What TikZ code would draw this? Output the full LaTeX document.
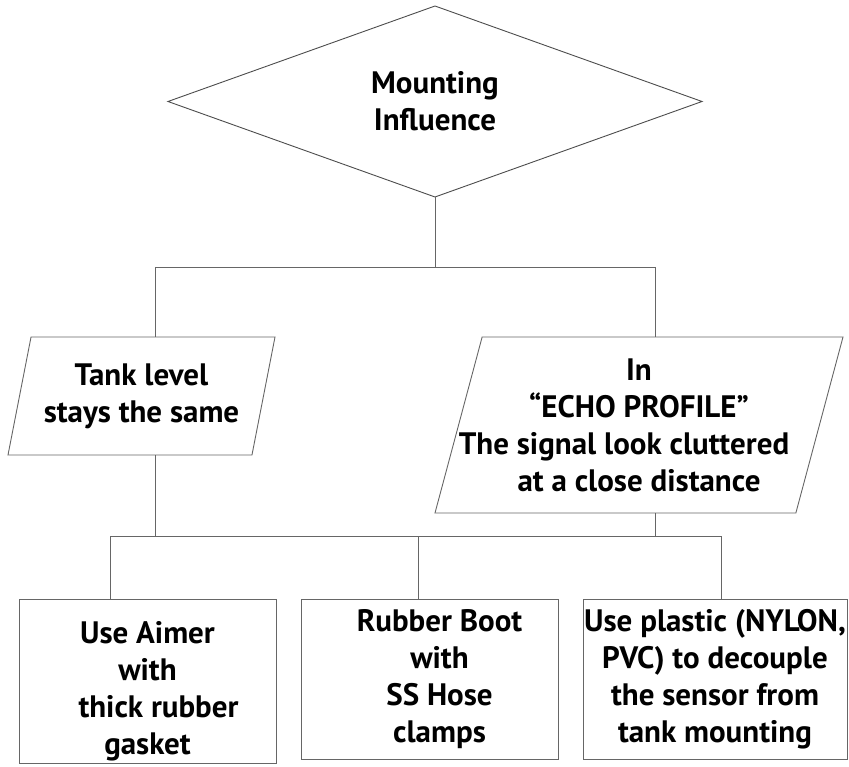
\documentclass[tikz,border=0pt]{standalone}
\usepackage{fontspec}
\setmainfont{PT Sans}
\usetikzlibrary{positioning, shapes.geometric}

\newcommand{\chartfont}{\fontsize{31}{37}\selectfont\bfseries}

\begin{document}
\begin{tikzpicture}[x=1pt, y=-1pt,
    link/.style={black!60, line width=0.9pt},
    decision/.style={diamond, draw=black!70, line width=0.9pt, aspect=2.8,
        minimum width=534pt, minimum height=191pt, inner sep=0pt, outer sep=0pt,
        align=center, font=\chartfont},
    slanted/.style={trapezium, trapezium left angle=70.5, trapezium right angle=109.5,
        trapezium stretches body, draw=black!60, line width=0.9pt, inner sep=0pt,
        outer sep=0pt, align=center, font=\chartfont},
    remedy/.style={rectangle, draw=black!60, line width=0.9pt, inner sep=0pt,
        outer sep=0pt, align=center, font=\chartfont}]
    \useasboundingbox (0,0) rectangle (849,767);

    \node[decision] (infl) at (435,101.5) {Mounting\\Influence};
    \node[slanted, minimum width=267pt, minimum height=118pt] (level) at (141.5,396)
        {Tank level\\stays the same};
    \node[slanted, minimum width=408pt, minimum height=176pt] (echo) at (639,425)
        {In\\``ECHO PROFILE''\\\makebox[200pt]{\hspace*{-30pt}The signal look cluttered}\\at a close distance};
    \node[remedy, minimum width=257pt, minimum height=164pt] (aimer) at (147.5,681)
        {\rule{0pt}{42pt}Use Aimer\\with\\\hspace*{22pt}thick rubber\\gasket};
    \node[remedy, minimum width=257pt, minimum height=160pt] (boot) at (429.5,679)
        {\hspace*{20pt}Rubber Boot\\\hspace*{20pt}with\\\hspace*{20pt}SS Hose\\\hspace*{20pt}clamps};
    \node[remedy, minimum width=264pt, minimum height=160pt] (plastic) at (715,679)
        {Use plastic (NYLON,\\PVC) to decouple\hspace*{20pt}\\the sensor from\\tank mounting};

    \coordinate (jl) at (155,267);
    \coordinate (jr) at (655,267);
    \coordinate (kl) at (110,536);
    \coordinate (km) at (418,536);
    \coordinate (kr) at (721,536);

    \draw[link] (infl.south) -- (infl.south |- jl);
    \draw[link] (jl) -- (jr);
    \draw[link] (jl) -- (jl |- level.north);
    \draw[link] (jr) -- (jr |- echo.north);
    \draw[link] (jl |- level.south) -- (jl |- kl);
    \draw[link] (jr |- echo.south) -- (jr |- kr);
    \draw[link] (kl) -- (kr);
    \draw[link] (kl) -- (kl |- aimer.north);
    \draw[link] (km) -- (km |- boot.north);
    \draw[link] (kr) -- (kr |- plastic.north);
\end{tikzpicture}
\end{document}
